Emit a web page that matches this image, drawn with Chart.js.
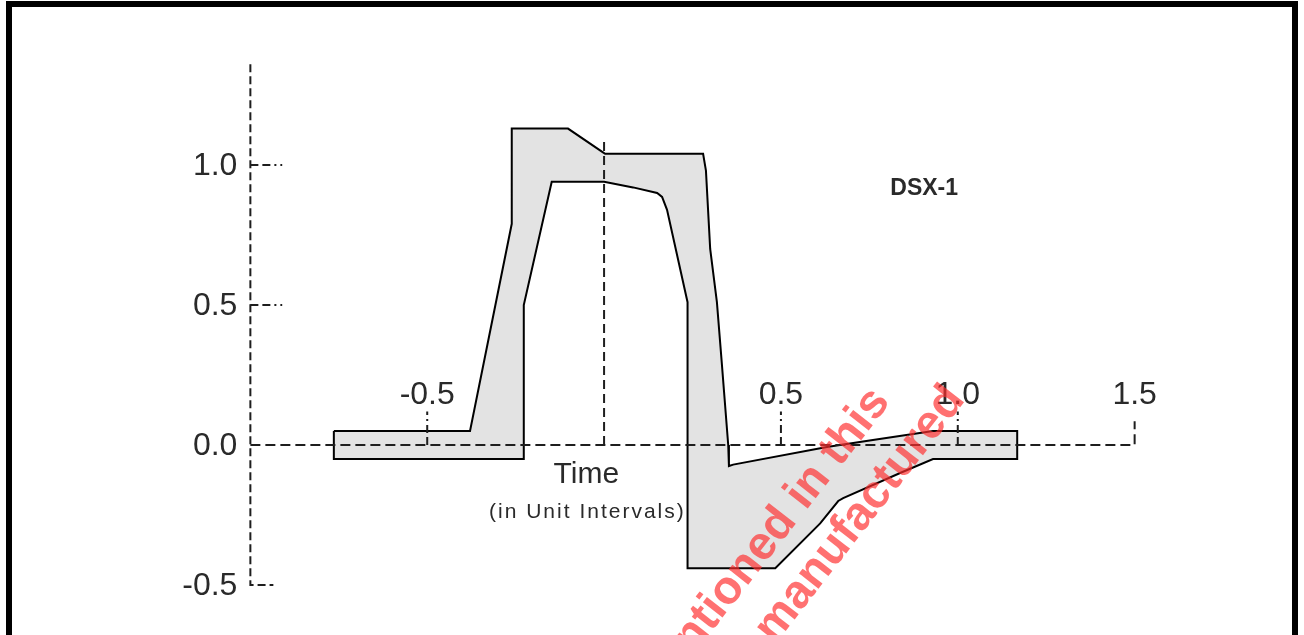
<!DOCTYPE html>
<html>
<head>
<meta charset="utf-8">
<title>DSX-1 pulse template</title>
<script src="https://cdn.jsdelivr.net/npm/chart.js@4.4.0/dist/chart.umd.min.js"></script>
<style>
  html, body { margin: 0; padding: 0; background: #fff; overflow: hidden; }
  #wrap { position: relative; width: 1304px; height: 635px; }
  #pulse { position: absolute; left: 0; top: 0; }
  #frame {
    position: absolute; left: 6px; top: 1px;
    width: 1280px; height: 700px;
    border: 6px solid #000; border-bottom: none;
    pointer-events: none;
  }
</style>
</head>
<body>
<div id="wrap">
  <canvas id="pulse" width="1304" height="635"></canvas>
  <div id="frame"></div>
</div>
<script>
// Mask outline, upper edge, left to right (time in unit intervals, normalized level)
const upperTime  = [-0.764, -0.379, -0.261, -0.261, -0.102, -0.003, 0.003, 0.280, 0.288, 0.300, 0.319, 0.333, 0.351, 0.353, 0.365, 0.630, 0.760, 0.930, 1.168];
const upperLevel = [ 0.05,   0.05,   0.79,   1.13,   1.13,   1.045, 1.04,  1.04,  0.98,  0.70,  0.51,  0.29,  0.00, -0.075, -0.07, -0.007, 0.018, 0.05,  0.05];

// Mask outline, lower edge, right to left
const lowerTime  = [1.168, 0.930, 0.837, 0.676, 0.662, 0.611, 0.484, 0.237, 0.237, 0.235, 0.178, 0.164, 0.150, 0.082, 0.000, -0.148, -0.227, -0.227, -0.764];
const lowerLevel = [-0.05, -0.05, -0.10, -0.19, -0.20, -0.28, -0.44, -0.44, 0.49,  0.51,  0.84,  0.886, 0.90,  0.92,  0.94,  0.94,   0.50,   -0.05,  -0.05];

// Axis ticks
const xTickValues = [-0.5, 0.5, 1.0, 1.5];
const xTickLabels = ['-0.5', '0.5', '1.0', '1.5'];
const yTickValues = [1.0, 0.5, 0.0, -0.5];
const yTickLabels = ['1.0', '0.5', '0.0', '-0.5'];

// Extent of the drawn axes
const timeAxisRange = [-1.0, 1.5];
const levelAxisRange = [-0.5, 1.36];
const zeroMarkerTop = 1.09;

const AXIS_COLOR = '#1e1e1e';
const TEXT_COLOR = '#2a2a2a';

// Build the closed mask polygon
const maskPoints = [];
upperTime.forEach((t, i) => maskPoints.push({ x: t, y: upperLevel[i] }));
lowerTime.forEach((t, i) => maskPoints.push({ x: t, y: lowerLevel[i] }));
maskPoints.push({ x: upperTime[0], y: upperLevel[0] });

function dashedLine(points, dash) {
    return {
        data: points,
        showLine: true,
        fill: false,
        borderColor: AXIS_COLOR,
        borderWidth: 2,
        borderDash: dash,
        pointRadius: 0,
        tension: 0
    };
}

const datasets = [];

// Time axis with the raised end at 1.5
datasets.push(dashedLine([
    { x: timeAxisRange[0], y: 0 },
    { x: timeAxisRange[1], y: 0 },
    { x: timeAxisRange[1], y: 0.085 }
], [10, 5]));

// Level axis with the short foot at -0.5
datasets.push(dashedLine([
    { x: timeAxisRange[0], y: levelAxisRange[1] },
    { x: timeAxisRange[0], y: levelAxisRange[0] },
    { x: timeAxisRange[0] + 0.065, y: levelAxisRange[0] }
], [8, 4]));

// Vertical marker at t = 0
datasets.push(dashedLine([
    { x: 0, y: 0 },
    { x: 0, y: zeroMarkerTop }
], [9, 5]));

// Tick marks
yTickValues.filter(v => v > 0).forEach(v => {
    datasets.push(dashedLine([
        { x: timeAxisRange[0], y: v },
        { x: timeAxisRange[0] + 0.09, y: v }
    ], [8, 4, 8, 4, 2, 4]));
});
xTickValues.filter(v => v < timeAxisRange[1]).forEach(v => {
    datasets.push(dashedLine([
        { x: v, y: 0 },
        { x: v, y: 0.12 }
    ], [8, 4, 8, 4, 2, 4]));
});

// The mask itself, drawn underneath the axes
datasets.push({
    data: maskPoints,
    showLine: true,
    fill: 'shape',
    backgroundColor: 'rgb(227, 227, 227)',
    borderColor: '#000',
    borderWidth: 2,
    pointRadius: 0,
    tension: 0
});

// Labels and annotation text
const labelPlugin = {
    id: 'pulseLabels',
    afterDatasetsDraw(chart) {
        const ctx = chart.ctx;
        const xs = chart.scales.x;
        const ys = chart.scales.y;
        ctx.save();
        ctx.fillStyle = TEXT_COLOR;
        ctx.font = '32px "Liberation Sans", Arial, sans-serif';

        // level tick labels, left of the axis
        ctx.textAlign = 'right';
        ctx.textBaseline = 'middle';
        const axisLeft = xs.getPixelForValue(timeAxisRange[0]);
        yTickValues.forEach((v, i) => {
            ctx.fillText(yTickLabels[i], axisLeft - 13, ys.getPixelForValue(v) + 1);
        });

        // time tick labels, above the axis
        ctx.textAlign = 'center';
        const zeroY = ys.getPixelForValue(0);
        xTickValues.forEach((v, i) => {
            ctx.fillText(xTickLabels[i], xs.getPixelForValue(v), zeroY - 50);
        });

        // axis title under the time axis
        ctx.font = '30px "Liberation Sans", Arial, sans-serif';
        ctx.fillText('Time', xs.getPixelForValue(-0.05), zeroY + 30);
        ctx.font = '21px "Liberation Sans", Arial, sans-serif';
        ctx.letterSpacing = '2px';
        ctx.fillText('(in Unit Intervals)', xs.getPixelForValue(-0.05) + 1, zeroY + 67);
        ctx.letterSpacing = '0px';

        // template name
        ctx.font = 'bold 23px "Liberation Sans", Arial, sans-serif';
        ctx.fillText('DSX-1', xs.getPixelForValue(0.905), ys.getPixelForValue(0.914));
        ctx.restore();
    },
    afterDraw(chart) {
        // red overlay stamp across the lower right
        const ctx = chart.ctx;
        const stamp = (text, x, y) => {
            ctx.save();
            ctx.fillStyle = 'rgba(255, 45, 45, 0.68)';
            ctx.font = 'bold 47px "Liberation Sans", Arial, sans-serif';
            ctx.textAlign = 'right';
            ctx.textBaseline = 'alphabetic';
            ctx.translate(x, y);
            ctx.rotate(-52 * Math.PI / 180);
            ctx.fillText(text, 0, 0);
            ctx.restore();
        };
        stamp('mentioned in this', 891, 402);
        stamp('manufactured', 966, 400);
    }
};

new Chart(document.getElementById('pulse'), {
    type: 'scatter',
    data: { datasets: datasets },
    options: {
        responsive: false,
        animation: false,
        layout: {
            padding: { left: 215, right: 134, top: 53, bottom: 22 }
        },
        plugins: {
            legend: { display: false },
            tooltip: { enabled: false }
        },
        scales: {
            x: { type: 'linear', min: -1.1, max: 1.6, display: false },
            y: { type: 'linear', min: -0.6, max: 1.4, display: false }
        }
    },
    plugins: [labelPlugin]
});
</script>
</body>
</html>
